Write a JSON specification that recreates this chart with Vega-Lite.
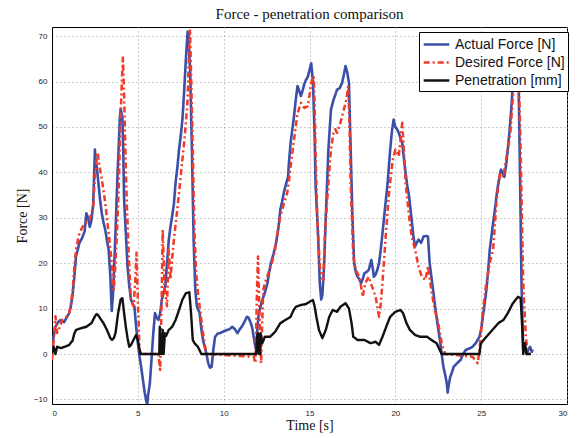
{
  "$schema": "https://vega.github.io/schema/vega-lite/v6.json",
  "autosize": {"type": "none"},
  "padding": {"left": 52, "top": 27, "right": 10, "bottom": 34},
  "width": 515,
  "height": 377,
  "background": "white",
  "title": {"text": "Force - penetration comparison", "font": "Liberation Serif", "fontSize": 15, "fontWeight": "normal", "color": "#111", "offset": 5},
  "config": {
    "view": {"stroke": "#000", "strokeWidth": 1},
    "axis": {
      "domainColor": "#000", "labelFont": "Liberation Sans", "labelFontSize": 8, "labelColor": "#222",
      "ticks": false, "labelPadding": 5, "gridColor": "#999", "gridDash": [1, 3], "gridWidth": 1,
      "titleFont": "Liberation Serif", "titleFontSize": 14, "titleFontWeight": "normal", "titleColor": "#111"
    },
    "legend": {
      "orient": "none", "legendX": 367, "legendY": 5, "strokeColor": "#000", "fillColor": "white",
      "padding": 3, "labelFont": "Liberation Sans", "labelFontSize": 14, "labelColor": "#111",
      "symbolType": "M-1.6,0H1.6", "symbolSize": 256, "symbolOffset": 5, "rowPadding": 1, "labelOffset": 9, "cornerRadius": 0
    }
  },
  "data": {"values": [
    {"s":"Actual Force [N]","t":0,"v":1.5},{"s":"Actual Force [N]","t":0.1,"v":4},{"s":"Actual Force [N]","t":0.2,"v":6},{"s":"Actual Force [N]","t":0.35,"v":7},{"s":"Actual Force [N]","t":0.5,"v":7.5},{"s":"Actual Force [N]","t":0.7,"v":7},{"s":"Actual Force [N]","t":0.85,"v":8},{"s":"Actual Force [N]","t":1.0,"v":9},{"s":"Actual Force [N]","t":1.1,"v":10.5},{"s":"Actual Force [N]","t":1.2,"v":13},{"s":"Actual Force [N]","t":1.3,"v":17},{"s":"Actual Force [N]","t":1.4,"v":21.5},{"s":"Actual Force [N]","t":1.5,"v":23},{"s":"Actual Force [N]","t":1.6,"v":24.5},{"s":"Actual Force [N]","t":1.75,"v":25.5},{"s":"Actual Force [N]","t":1.9,"v":27},{"s":"Actual Force [N]","t":2.0,"v":31},{"s":"Actual Force [N]","t":2.1,"v":30},{"s":"Actual Force [N]","t":2.2,"v":28},{"s":"Actual Force [N]","t":2.3,"v":29.5},{"s":"Actual Force [N]","t":2.4,"v":33},{"s":"Actual Force [N]","t":2.5,"v":45},{"s":"Actual Force [N]","t":2.55,"v":42},{"s":"Actual Force [N]","t":2.6,"v":41.5},{"s":"Actual Force [N]","t":2.7,"v":37.8},{"s":"Actual Force [N]","t":2.8,"v":34},{"s":"Actual Force [N]","t":2.9,"v":31},{"s":"Actual Force [N]","t":3.0,"v":29},{"s":"Actual Force [N]","t":3.1,"v":27.4},{"s":"Actual Force [N]","t":3.2,"v":25},{"s":"Actual Force [N]","t":3.3,"v":23},{"s":"Actual Force [N]","t":3.4,"v":17},{"s":"Actual Force [N]","t":3.48,"v":9.5},{"s":"Actual Force [N]","t":3.55,"v":13},{"s":"Actual Force [N]","t":3.6,"v":17},{"s":"Actual Force [N]","t":3.7,"v":27},{"s":"Actual Force [N]","t":3.8,"v":37.8},{"s":"Actual Force [N]","t":3.9,"v":47},{"s":"Actual Force [N]","t":3.95,"v":51.8},{"s":"Actual Force [N]","t":4.0,"v":54},{"s":"Actual Force [N]","t":4.1,"v":52},{"s":"Actual Force [N]","t":4.15,"v":45},{"s":"Actual Force [N]","t":4.2,"v":34},{"s":"Actual Force [N]","t":4.3,"v":26.7},{"s":"Actual Force [N]","t":4.4,"v":19.3},{"s":"Actual Force [N]","t":4.5,"v":15},{"s":"Actual Force [N]","t":4.6,"v":12},{"s":"Actual Force [N]","t":4.7,"v":11},{"s":"Actual Force [N]","t":4.8,"v":10.5},{"s":"Actual Force [N]","t":4.9,"v":6},{"s":"Actual Force [N]","t":5.0,"v":2.5},{"s":"Actual Force [N]","t":5.1,"v":-0.6},{"s":"Actual Force [N]","t":5.2,"v":-3},{"s":"Actual Force [N]","t":5.3,"v":-5.8},{"s":"Actual Force [N]","t":5.4,"v":-8.5},{"s":"Actual Force [N]","t":5.5,"v":-10.5},{"s":"Actual Force [N]","t":5.55,"v":-11},{"s":"Actual Force [N]","t":5.6,"v":-9},{"s":"Actual Force [N]","t":5.7,"v":-6.5},{"s":"Actual Force [N]","t":5.8,"v":-1},{"s":"Actual Force [N]","t":5.9,"v":4.6},{"s":"Actual Force [N]","t":6.0,"v":9},{"s":"Actual Force [N]","t":6.1,"v":8},{"s":"Actual Force [N]","t":6.2,"v":7.5},{"s":"Actual Force [N]","t":6.3,"v":9},{"s":"Actual Force [N]","t":6.4,"v":12},{"s":"Actual Force [N]","t":6.5,"v":13.5},{"s":"Actual Force [N]","t":6.6,"v":15},{"s":"Actual Force [N]","t":6.7,"v":20},{"s":"Actual Force [N]","t":6.8,"v":25},{"s":"Actual Force [N]","t":6.9,"v":28},{"s":"Actual Force [N]","t":7.0,"v":30.4},{"s":"Actual Force [N]","t":7.1,"v":33},{"s":"Actual Force [N]","t":7.2,"v":37.8},{"s":"Actual Force [N]","t":7.3,"v":41},{"s":"Actual Force [N]","t":7.4,"v":45},{"s":"Actual Force [N]","t":7.5,"v":48},{"s":"Actual Force [N]","t":7.6,"v":51.8},{"s":"Actual Force [N]","t":7.7,"v":58},{"s":"Actual Force [N]","t":7.8,"v":65},{"s":"Actual Force [N]","t":7.9,"v":71},{"s":"Actual Force [N]","t":7.95,"v":70},{"s":"Actual Force [N]","t":8.05,"v":62},{"s":"Actual Force [N]","t":8.15,"v":45},{"s":"Actual Force [N]","t":8.25,"v":25},{"s":"Actual Force [N]","t":8.35,"v":14},{"s":"Actual Force [N]","t":8.44,"v":10.5},{"s":"Actual Force [N]","t":8.6,"v":9},{"s":"Actual Force [N]","t":8.7,"v":5.5},{"s":"Actual Force [N]","t":8.8,"v":3},{"s":"Actual Force [N]","t":9.0,"v":0},{"s":"Actual Force [N]","t":9.1,"v":-2},{"s":"Actual Force [N]","t":9.2,"v":-3},{"s":"Actual Force [N]","t":9.3,"v":-2.8},{"s":"Actual Force [N]","t":9.4,"v":1},{"s":"Actual Force [N]","t":9.5,"v":3.8},{"s":"Actual Force [N]","t":9.65,"v":4.5},{"s":"Actual Force [N]","t":9.8,"v":4.6},{"s":"Actual Force [N]","t":10.0,"v":5},{"s":"Actual Force [N]","t":10.2,"v":5.3},{"s":"Actual Force [N]","t":10.35,"v":5.5},{"s":"Actual Force [N]","t":10.5,"v":6},{"s":"Actual Force [N]","t":10.65,"v":5.5},{"s":"Actual Force [N]","t":10.8,"v":4.6},{"s":"Actual Force [N]","t":10.95,"v":5.5},{"s":"Actual Force [N]","t":11.05,"v":6},{"s":"Actual Force [N]","t":11.2,"v":7},{"s":"Actual Force [N]","t":11.35,"v":8.2},{"s":"Actual Force [N]","t":11.45,"v":8},{"s":"Actual Force [N]","t":11.55,"v":7.1},{"s":"Actual Force [N]","t":11.65,"v":6},{"s":"Actual Force [N]","t":11.75,"v":3.8},{"s":"Actual Force [N]","t":11.85,"v":1.5},{"s":"Actual Force [N]","t":11.9,"v":0.9},{"s":"Actual Force [N]","t":11.97,"v":6},{"s":"Actual Force [N]","t":12.05,"v":9},{"s":"Actual Force [N]","t":12.15,"v":10.5},{"s":"Actual Force [N]","t":12.25,"v":11.9},{"s":"Actual Force [N]","t":12.4,"v":13.5},{"s":"Actual Force [N]","t":12.55,"v":15.6},{"s":"Actual Force [N]","t":12.65,"v":18},{"s":"Actual Force [N]","t":12.75,"v":20},{"s":"Actual Force [N]","t":12.9,"v":22},{"s":"Actual Force [N]","t":13.05,"v":24.4},{"s":"Actual Force [N]","t":13.2,"v":28},{"s":"Actual Force [N]","t":13.3,"v":31.8},{"s":"Actual Force [N]","t":13.4,"v":33.5},{"s":"Actual Force [N]","t":13.5,"v":35.4},{"s":"Actual Force [N]","t":13.6,"v":37},{"s":"Actual Force [N]","t":13.75,"v":39},{"s":"Actual Force [N]","t":13.8,"v":42},{"s":"Actual Force [N]","t":13.9,"v":46.5},{"s":"Actual Force [N]","t":14.0,"v":49.5},{"s":"Actual Force [N]","t":14.1,"v":52.4},{"s":"Actual Force [N]","t":14.2,"v":56},{"s":"Actual Force [N]","t":14.3,"v":59},{"s":"Actual Force [N]","t":14.4,"v":58},{"s":"Actual Force [N]","t":14.5,"v":56.8},{"s":"Actual Force [N]","t":14.6,"v":58},{"s":"Actual Force [N]","t":14.7,"v":59.5},{"s":"Actual Force [N]","t":14.8,"v":60.4},{"s":"Actual Force [N]","t":14.9,"v":61},{"s":"Actual Force [N]","t":15.0,"v":62.5},{"s":"Actual Force [N]","t":15.1,"v":64},{"s":"Actual Force [N]","t":15.2,"v":60},{"s":"Actual Force [N]","t":15.3,"v":48},{"s":"Actual Force [N]","t":15.35,"v":37.6},{"s":"Actual Force [N]","t":15.45,"v":30},{"s":"Actual Force [N]","t":15.5,"v":25.9},{"s":"Actual Force [N]","t":15.6,"v":15.6},{"s":"Actual Force [N]","t":15.68,"v":12},{"s":"Actual Force [N]","t":15.75,"v":13},{"s":"Actual Force [N]","t":15.85,"v":19.3},{"s":"Actual Force [N]","t":15.95,"v":30.3},{"s":"Actual Force [N]","t":16.05,"v":40},{"s":"Actual Force [N]","t":16.1,"v":45},{"s":"Actual Force [N]","t":16.25,"v":53.8},{"s":"Actual Force [N]","t":16.4,"v":56},{"s":"Actual Force [N]","t":16.5,"v":57},{"s":"Actual Force [N]","t":16.6,"v":58.2},{"s":"Actual Force [N]","t":16.75,"v":58.5},{"s":"Actual Force [N]","t":16.9,"v":59.7},{"s":"Actual Force [N]","t":17.0,"v":61.5},{"s":"Actual Force [N]","t":17.1,"v":63.4},{"s":"Actual Force [N]","t":17.2,"v":62},{"s":"Actual Force [N]","t":17.3,"v":59.7},{"s":"Actual Force [N]","t":17.35,"v":52},{"s":"Actual Force [N]","t":17.4,"v":45},{"s":"Actual Force [N]","t":17.5,"v":30.3},{"s":"Actual Force [N]","t":17.6,"v":20},{"s":"Actual Force [N]","t":17.7,"v":18},{"s":"Actual Force [N]","t":17.8,"v":17},{"s":"Actual Force [N]","t":17.9,"v":16.5},{"s":"Actual Force [N]","t":18.0,"v":15.6},{"s":"Actual Force [N]","t":18.1,"v":16.5},{"s":"Actual Force [N]","t":18.2,"v":17.8},{"s":"Actual Force [N]","t":18.3,"v":18},{"s":"Actual Force [N]","t":18.45,"v":18.5},{"s":"Actual Force [N]","t":18.6,"v":20.7},{"s":"Actual Force [N]","t":18.7,"v":18.5},{"s":"Actual Force [N]","t":18.75,"v":17},{"s":"Actual Force [N]","t":18.85,"v":17.5},{"s":"Actual Force [N]","t":18.95,"v":18.5},{"s":"Actual Force [N]","t":19.05,"v":20},{"s":"Actual Force [N]","t":19.15,"v":23},{"s":"Actual Force [N]","t":19.25,"v":26.5},{"s":"Actual Force [N]","t":19.35,"v":30.3},{"s":"Actual Force [N]","t":19.45,"v":34},{"s":"Actual Force [N]","t":19.55,"v":37.6},{"s":"Actual Force [N]","t":19.7,"v":45},{"s":"Actual Force [N]","t":19.8,"v":49},{"s":"Actual Force [N]","t":19.9,"v":51.6},{"s":"Actual Force [N]","t":20.0,"v":50},{"s":"Actual Force [N]","t":20.1,"v":49.5},{"s":"Actual Force [N]","t":20.2,"v":48.7},{"s":"Actual Force [N]","t":20.3,"v":47.5},{"s":"Actual Force [N]","t":20.4,"v":46.5},{"s":"Actual Force [N]","t":20.5,"v":43},{"s":"Actual Force [N]","t":20.6,"v":39.8},{"s":"Actual Force [N]","t":20.7,"v":37},{"s":"Actual Force [N]","t":20.8,"v":34.7},{"s":"Actual Force [N]","t":20.95,"v":29.6},{"s":"Actual Force [N]","t":21.05,"v":26},{"s":"Actual Force [N]","t":21.15,"v":23.7},{"s":"Actual Force [N]","t":21.25,"v":24.5},{"s":"Actual Force [N]","t":21.35,"v":25.2},{"s":"Actual Force [N]","t":21.5,"v":24.5},{"s":"Actual Force [N]","t":21.65,"v":25.9},{"s":"Actual Force [N]","t":21.8,"v":26},{"s":"Actual Force [N]","t":21.9,"v":25.9},{"s":"Actual Force [N]","t":22.0,"v":20},{"s":"Actual Force [N]","t":22.1,"v":17},{"s":"Actual Force [N]","t":22.2,"v":14.1},{"s":"Actual Force [N]","t":22.3,"v":11},{"s":"Actual Force [N]","t":22.4,"v":8.2},{"s":"Actual Force [N]","t":22.5,"v":5.5},{"s":"Actual Force [N]","t":22.6,"v":3},{"s":"Actual Force [N]","t":22.7,"v":0},{"s":"Actual Force [N]","t":22.8,"v":-2.8},{"s":"Actual Force [N]","t":22.9,"v":-4.5},{"s":"Actual Force [N]","t":23.0,"v":-6.5},{"s":"Actual Force [N]","t":23.05,"v":-8.5},{"s":"Actual Force [N]","t":23.1,"v":-7},{"s":"Actual Force [N]","t":23.2,"v":-5},{"s":"Actual Force [N]","t":23.3,"v":-4},{"s":"Actual Force [N]","t":23.4,"v":-2.8},{"s":"Actual Force [N]","t":23.6,"v":-2},{"s":"Actual Force [N]","t":23.8,"v":-1.3},{"s":"Actual Force [N]","t":23.95,"v":0},{"s":"Actual Force [N]","t":24.1,"v":0.9},{"s":"Actual Force [N]","t":24.3,"v":1.2},{"s":"Actual Force [N]","t":24.5,"v":1.6},{"s":"Actual Force [N]","t":24.7,"v":2.5},{"s":"Actual Force [N]","t":24.9,"v":3.8},{"s":"Actual Force [N]","t":25.0,"v":5.5},{"s":"Actual Force [N]","t":25.1,"v":8.2},{"s":"Actual Force [N]","t":25.2,"v":11},{"s":"Actual Force [N]","t":25.3,"v":14},{"s":"Actual Force [N]","t":25.4,"v":18},{"s":"Actual Force [N]","t":25.5,"v":23},{"s":"Actual Force [N]","t":25.65,"v":27.5},{"s":"Actual Force [N]","t":25.8,"v":31.8},{"s":"Actual Force [N]","t":25.9,"v":35},{"s":"Actual Force [N]","t":26.0,"v":37.6},{"s":"Actual Force [N]","t":26.15,"v":40.6},{"s":"Actual Force [N]","t":26.25,"v":40},{"s":"Actual Force [N]","t":26.35,"v":39},{"s":"Actual Force [N]","t":26.45,"v":41.5},{"s":"Actual Force [N]","t":26.55,"v":45},{"s":"Actual Force [N]","t":26.65,"v":49},{"s":"Actual Force [N]","t":26.75,"v":53.8},{"s":"Actual Force [N]","t":26.85,"v":59.7},{"s":"Actual Force [N]","t":26.95,"v":63},{"s":"Actual Force [N]","t":27.05,"v":67},{"s":"Actual Force [N]","t":27.1,"v":68},{"s":"Actual Force [N]","t":27.15,"v":66},{"s":"Actual Force [N]","t":27.2,"v":55},{"s":"Actual Force [N]","t":27.28,"v":35},{"s":"Actual Force [N]","t":27.35,"v":15.6},{"s":"Actual Force [N]","t":27.45,"v":0.9},{"s":"Actual Force [N]","t":27.55,"v":1.5},{"s":"Actual Force [N]","t":27.65,"v":0},{"s":"Actual Force [N]","t":27.75,"v":1},{"s":"Actual Force [N]","t":27.85,"v":1.6},{"s":"Actual Force [N]","t":27.95,"v":0.5},{"s":"Actual Force [N]","t":28.0,"v":1},

    {"s":"Desired Force [N]","t":0,"v":-1.3},{"s":"Desired Force [N]","t":0.1,"v":3},{"s":"Desired Force [N]","t":0.2,"v":8.3},{"s":"Desired Force [N]","t":0.3,"v":4.6},{"s":"Desired Force [N]","t":0.45,"v":6},{"s":"Desired Force [N]","t":0.6,"v":7.5},{"s":"Desired Force [N]","t":0.8,"v":8},{"s":"Desired Force [N]","t":1.0,"v":9},{"s":"Desired Force [N]","t":1.1,"v":11},{"s":"Desired Force [N]","t":1.2,"v":14},{"s":"Desired Force [N]","t":1.3,"v":19},{"s":"Desired Force [N]","t":1.4,"v":23},{"s":"Desired Force [N]","t":1.55,"v":26},{"s":"Desired Force [N]","t":1.7,"v":27.4},{"s":"Desired Force [N]","t":1.85,"v":28.5},{"s":"Desired Force [N]","t":2.0,"v":29},{"s":"Desired Force [N]","t":2.2,"v":29.6},{"s":"Desired Force [N]","t":2.3,"v":31},{"s":"Desired Force [N]","t":2.4,"v":32.6},{"s":"Desired Force [N]","t":2.5,"v":39.2},{"s":"Desired Force [N]","t":2.65,"v":44.4},{"s":"Desired Force [N]","t":2.75,"v":42},{"s":"Desired Force [N]","t":2.8,"v":40.7},{"s":"Desired Force [N]","t":2.9,"v":38.5},{"s":"Desired Force [N]","t":3.0,"v":36},{"s":"Desired Force [N]","t":3.1,"v":33.3},{"s":"Desired Force [N]","t":3.2,"v":30},{"s":"Desired Force [N]","t":3.3,"v":26.7},{"s":"Desired Force [N]","t":3.4,"v":23},{"s":"Desired Force [N]","t":3.5,"v":19.3},{"s":"Desired Force [N]","t":3.6,"v":14.2},{"s":"Desired Force [N]","t":3.7,"v":20},{"s":"Desired Force [N]","t":3.8,"v":28},{"s":"Desired Force [N]","t":3.9,"v":38},{"s":"Desired Force [N]","t":3.95,"v":45.9},{"s":"Desired Force [N]","t":4.05,"v":58},{"s":"Desired Force [N]","t":4.13,"v":65.5},{"s":"Desired Force [N]","t":4.2,"v":57},{"s":"Desired Force [N]","t":4.25,"v":48.8},{"s":"Desired Force [N]","t":4.35,"v":34},{"s":"Desired Force [N]","t":4.45,"v":24},{"s":"Desired Force [N]","t":4.5,"v":19.3},{"s":"Desired Force [N]","t":4.6,"v":12},{"s":"Desired Force [N]","t":4.75,"v":10.5},{"s":"Desired Force [N]","t":4.85,"v":16},{"s":"Desired Force [N]","t":4.92,"v":22.3},{"s":"Desired Force [N]","t":5.0,"v":12},{"s":"Desired Force [N]","t":5.1,"v":0.9},{"s":"Desired Force [N]","t":5.2,"v":0},{"s":"Desired Force [N]","t":6.2,"v":0},{"s":"Desired Force [N]","t":6.3,"v":-3.5},{"s":"Desired Force [N]","t":6.38,"v":10.5},{"s":"Desired Force [N]","t":6.45,"v":27.4},{"s":"Desired Force [N]","t":6.55,"v":15},{"s":"Desired Force [N]","t":6.7,"v":10.5},{"s":"Desired Force [N]","t":6.8,"v":23},{"s":"Desired Force [N]","t":6.9,"v":16.4},{"s":"Desired Force [N]","t":7.0,"v":21},{"s":"Desired Force [N]","t":7.1,"v":25.2},{"s":"Desired Force [N]","t":7.2,"v":28.5},{"s":"Desired Force [N]","t":7.3,"v":31.9},{"s":"Desired Force [N]","t":7.4,"v":35.5},{"s":"Desired Force [N]","t":7.5,"v":39.2},{"s":"Desired Force [N]","t":7.6,"v":43},{"s":"Desired Force [N]","t":7.7,"v":46.6},{"s":"Desired Force [N]","t":7.8,"v":51},{"s":"Desired Force [N]","t":7.9,"v":56},{"s":"Desired Force [N]","t":7.97,"v":65},{"s":"Desired Force [N]","t":8.04,"v":71.5},{"s":"Desired Force [N]","t":8.1,"v":62},{"s":"Desired Force [N]","t":8.2,"v":45},{"s":"Desired Force [N]","t":8.3,"v":26.7},{"s":"Desired Force [N]","t":8.4,"v":17.8},{"s":"Desired Force [N]","t":8.5,"v":13.5},{"s":"Desired Force [N]","t":8.6,"v":10.5},{"s":"Desired Force [N]","t":8.7,"v":7.5},{"s":"Desired Force [N]","t":8.8,"v":4.6},{"s":"Desired Force [N]","t":8.9,"v":2},{"s":"Desired Force [N]","t":9.0,"v":0},{"s":"Desired Force [N]","t":11.75,"v":-0.6},{"s":"Desired Force [N]","t":11.85,"v":-2},{"s":"Desired Force [N]","t":11.95,"v":15.6},{"s":"Desired Force [N]","t":12.0,"v":21.5},{"s":"Desired Force [N]","t":12.08,"v":9.7},{"s":"Desired Force [N]","t":12.18,"v":-2},{"s":"Desired Force [N]","t":12.3,"v":14},{"s":"Desired Force [N]","t":12.4,"v":15.6},{"s":"Desired Force [N]","t":12.6,"v":17.8},{"s":"Desired Force [N]","t":12.8,"v":20},{"s":"Desired Force [N]","t":13.0,"v":23},{"s":"Desired Force [N]","t":13.15,"v":27},{"s":"Desired Force [N]","t":13.3,"v":30.3},{"s":"Desired Force [N]","t":13.5,"v":33},{"s":"Desired Force [N]","t":13.7,"v":35.4},{"s":"Desired Force [N]","t":13.8,"v":38},{"s":"Desired Force [N]","t":13.9,"v":41.3},{"s":"Desired Force [N]","t":14.1,"v":47.2},{"s":"Desired Force [N]","t":14.3,"v":53},{"s":"Desired Force [N]","t":14.5,"v":55.3},{"s":"Desired Force [N]","t":14.7,"v":54.2},{"s":"Desired Force [N]","t":14.9,"v":54.6},{"s":"Desired Force [N]","t":15.0,"v":57},{"s":"Desired Force [N]","t":15.1,"v":59.7},{"s":"Desired Force [N]","t":15.25,"v":61.2},{"s":"Desired Force [N]","t":15.3,"v":55},{"s":"Desired Force [N]","t":15.35,"v":45},{"s":"Desired Force [N]","t":15.45,"v":30.3},{"s":"Desired Force [N]","t":15.6,"v":19.3},{"s":"Desired Force [N]","t":15.7,"v":17},{"s":"Desired Force [N]","t":15.8,"v":16.3},{"s":"Desired Force [N]","t":15.9,"v":26.6},{"s":"Desired Force [N]","t":16.0,"v":32},{"s":"Desired Force [N]","t":16.1,"v":37.6},{"s":"Desired Force [N]","t":16.25,"v":45},{"s":"Desired Force [N]","t":16.4,"v":48.7},{"s":"Desired Force [N]","t":16.5,"v":49.5},{"s":"Desired Force [N]","t":16.6,"v":48.7},{"s":"Desired Force [N]","t":16.8,"v":50.9},{"s":"Desired Force [N]","t":17.0,"v":53.8},{"s":"Desired Force [N]","t":17.15,"v":56},{"s":"Desired Force [N]","t":17.25,"v":59},{"s":"Desired Force [N]","t":17.32,"v":52},{"s":"Desired Force [N]","t":17.4,"v":37.6},{"s":"Desired Force [N]","t":17.55,"v":21.5},{"s":"Desired Force [N]","t":17.7,"v":18.5},{"s":"Desired Force [N]","t":17.9,"v":17},{"s":"Desired Force [N]","t":18.0,"v":15},{"s":"Desired Force [N]","t":18.1,"v":12.6},{"s":"Desired Force [N]","t":18.25,"v":15.6},{"s":"Desired Force [N]","t":18.45,"v":17},{"s":"Desired Force [N]","t":18.65,"v":14.8},{"s":"Desired Force [N]","t":18.85,"v":12.6},{"s":"Desired Force [N]","t":18.95,"v":10.5},{"s":"Desired Force [N]","t":19.05,"v":8.2},{"s":"Desired Force [N]","t":19.15,"v":11},{"s":"Desired Force [N]","t":19.25,"v":15.6},{"s":"Desired Force [N]","t":19.35,"v":21},{"s":"Desired Force [N]","t":19.45,"v":26.6},{"s":"Desired Force [N]","t":19.65,"v":36.2},{"s":"Desired Force [N]","t":19.85,"v":42.8},{"s":"Desired Force [N]","t":20.0,"v":45},{"s":"Desired Force [N]","t":20.2,"v":43.5},{"s":"Desired Force [N]","t":20.3,"v":47},{"s":"Desired Force [N]","t":20.4,"v":50.9},{"s":"Desired Force [N]","t":20.5,"v":45},{"s":"Desired Force [N]","t":20.6,"v":37.6},{"s":"Desired Force [N]","t":20.7,"v":34},{"s":"Desired Force [N]","t":20.8,"v":30.3},{"s":"Desired Force [N]","t":20.95,"v":25.9},{"s":"Desired Force [N]","t":21.15,"v":23},{"s":"Desired Force [N]","t":21.35,"v":19.3},{"s":"Desired Force [N]","t":21.55,"v":17},{"s":"Desired Force [N]","t":21.75,"v":16.3},{"s":"Desired Force [N]","t":21.9,"v":19.3},{"s":"Desired Force [N]","t":22.1,"v":14},{"s":"Desired Force [N]","t":22.3,"v":9.7},{"s":"Desired Force [N]","t":22.5,"v":6.8},{"s":"Desired Force [N]","t":22.7,"v":2.4},{"s":"Desired Force [N]","t":22.9,"v":0},{"s":"Desired Force [N]","t":24.5,"v":-0.6},{"s":"Desired Force [N]","t":24.8,"v":-2},{"s":"Desired Force [N]","t":24.9,"v":0.9},{"s":"Desired Force [N]","t":25.1,"v":9.7},{"s":"Desired Force [N]","t":25.3,"v":15.6},{"s":"Desired Force [N]","t":25.5,"v":20},{"s":"Desired Force [N]","t":25.7,"v":23},{"s":"Desired Force [N]","t":25.9,"v":34},{"s":"Desired Force [N]","t":26.1,"v":39.8},{"s":"Desired Force [N]","t":26.3,"v":39},{"s":"Desired Force [N]","t":26.45,"v":42.8},{"s":"Desired Force [N]","t":26.7,"v":48.7},{"s":"Desired Force [N]","t":26.9,"v":59.7},{"s":"Desired Force [N]","t":27.0,"v":64},{"s":"Desired Force [N]","t":27.1,"v":66},{"s":"Desired Force [N]","t":27.2,"v":60},{"s":"Desired Force [N]","t":27.3,"v":45},{"s":"Desired Force [N]","t":27.45,"v":15.6},{"s":"Desired Force [N]","t":27.6,"v":3.8},{"s":"Desired Force [N]","t":27.7,"v":0.9},{"s":"Desired Force [N]","t":27.8,"v":0},

    {"s":"Penetration [mm]","t":0,"v":0},{"s":"Penetration [mm]","t":0.1,"v":1.6},{"s":"Penetration [mm]","t":0.2,"v":0},{"s":"Penetration [mm]","t":0.3,"v":1.6},{"s":"Penetration [mm]","t":0.5,"v":1.3},{"s":"Penetration [mm]","t":0.75,"v":1.6},{"s":"Penetration [mm]","t":1.0,"v":2},{"s":"Penetration [mm]","t":1.2,"v":3},{"s":"Penetration [mm]","t":1.3,"v":4.5},{"s":"Penetration [mm]","t":1.4,"v":5.3},{"s":"Penetration [mm]","t":1.7,"v":5.7},{"s":"Penetration [mm]","t":2.0,"v":6},{"s":"Penetration [mm]","t":2.3,"v":6.8},{"s":"Penetration [mm]","t":2.5,"v":8.3},{"s":"Penetration [mm]","t":2.6,"v":8.8},{"s":"Penetration [mm]","t":2.7,"v":8.5},{"s":"Penetration [mm]","t":2.8,"v":7.9},{"s":"Penetration [mm]","t":3.0,"v":6.8},{"s":"Penetration [mm]","t":3.2,"v":5.3},{"s":"Penetration [mm]","t":3.4,"v":3.5},{"s":"Penetration [mm]","t":3.5,"v":3.1},{"s":"Penetration [mm]","t":3.6,"v":3.5},{"s":"Penetration [mm]","t":3.7,"v":4.6},{"s":"Penetration [mm]","t":3.85,"v":9},{"s":"Penetration [mm]","t":4.0,"v":12},{"s":"Penetration [mm]","t":4.1,"v":12.3},{"s":"Penetration [mm]","t":4.2,"v":9},{"s":"Penetration [mm]","t":4.3,"v":6},{"s":"Penetration [mm]","t":4.4,"v":3.5},{"s":"Penetration [mm]","t":4.5,"v":1.6},{"s":"Penetration [mm]","t":4.6,"v":2},{"s":"Penetration [mm]","t":4.8,"v":3.5},{"s":"Penetration [mm]","t":4.9,"v":4.2},{"s":"Penetration [mm]","t":5.0,"v":3.1},{"s":"Penetration [mm]","t":5.1,"v":1},{"s":"Penetration [mm]","t":5.15,"v":0},{"s":"Penetration [mm]","t":6.25,"v":0},{"s":"Penetration [mm]","t":6.28,"v":6},{"s":"Penetration [mm]","t":6.33,"v":0},{"s":"Penetration [mm]","t":6.4,"v":0},{"s":"Penetration [mm]","t":6.45,"v":5.3},{"s":"Penetration [mm]","t":6.5,"v":0},{"s":"Penetration [mm]","t":6.58,"v":4.6},{"s":"Penetration [mm]","t":6.65,"v":4},{"s":"Penetration [mm]","t":6.8,"v":5.3},{"s":"Penetration [mm]","t":7.0,"v":6},{"s":"Penetration [mm]","t":7.2,"v":7.5},{"s":"Penetration [mm]","t":7.4,"v":9.7},{"s":"Penetration [mm]","t":7.6,"v":12},{"s":"Penetration [mm]","t":7.8,"v":13.4},{"s":"Penetration [mm]","t":8.0,"v":13.6},{"s":"Penetration [mm]","t":8.1,"v":9},{"s":"Penetration [mm]","t":8.2,"v":3.1},{"s":"Penetration [mm]","t":8.3,"v":2.4},{"s":"Penetration [mm]","t":8.5,"v":1.6},{"s":"Penetration [mm]","t":8.7,"v":0},{"s":"Penetration [mm]","t":11.9,"v":0},{"s":"Penetration [mm]","t":11.95,"v":3.8},{"s":"Penetration [mm]","t":12.0,"v":4.6},{"s":"Penetration [mm]","t":12.05,"v":0},{"s":"Penetration [mm]","t":12.12,"v":0},{"s":"Penetration [mm]","t":12.15,"v":4.6},{"s":"Penetration [mm]","t":12.25,"v":2.4},{"s":"Penetration [mm]","t":12.4,"v":3.8},{"s":"Penetration [mm]","t":12.7,"v":3.8},{"s":"Penetration [mm]","t":13.0,"v":4.9},{"s":"Penetration [mm]","t":13.3,"v":6.8},{"s":"Penetration [mm]","t":13.6,"v":7.5},{"s":"Penetration [mm]","t":13.9,"v":8.2},{"s":"Penetration [mm]","t":14.05,"v":9.5},{"s":"Penetration [mm]","t":14.2,"v":10.4},{"s":"Penetration [mm]","t":14.5,"v":10.8},{"s":"Penetration [mm]","t":14.8,"v":11},{"s":"Penetration [mm]","t":15.0,"v":11.5},{"s":"Penetration [mm]","t":15.2,"v":11.9},{"s":"Penetration [mm]","t":15.3,"v":10.5},{"s":"Penetration [mm]","t":15.4,"v":8.2},{"s":"Penetration [mm]","t":15.55,"v":5.3},{"s":"Penetration [mm]","t":15.75,"v":3.5},{"s":"Penetration [mm]","t":15.95,"v":5.3},{"s":"Penetration [mm]","t":16.15,"v":8.2},{"s":"Penetration [mm]","t":16.35,"v":9.7},{"s":"Penetration [mm]","t":16.6,"v":9.3},{"s":"Penetration [mm]","t":16.8,"v":10.4},{"s":"Penetration [mm]","t":17.1,"v":11.2},{"s":"Penetration [mm]","t":17.3,"v":10},{"s":"Penetration [mm]","t":17.45,"v":6.8},{"s":"Penetration [mm]","t":17.55,"v":3.8},{"s":"Penetration [mm]","t":17.8,"v":3.1},{"s":"Penetration [mm]","t":18.2,"v":3.1},{"s":"Penetration [mm]","t":18.55,"v":2.4},{"s":"Penetration [mm]","t":18.85,"v":2.7},{"s":"Penetration [mm]","t":19.05,"v":2},{"s":"Penetration [mm]","t":19.25,"v":3.8},{"s":"Penetration [mm]","t":19.55,"v":6.8},{"s":"Penetration [mm]","t":19.7,"v":8.2},{"s":"Penetration [mm]","t":20.0,"v":9.3},{"s":"Penetration [mm]","t":20.3,"v":9.7},{"s":"Penetration [mm]","t":20.45,"v":9},{"s":"Penetration [mm]","t":20.65,"v":6.8},{"s":"Penetration [mm]","t":20.85,"v":5.3},{"s":"Penetration [mm]","t":21.15,"v":4.2},{"s":"Penetration [mm]","t":21.45,"v":3.8},{"s":"Penetration [mm]","t":21.85,"v":3.8},{"s":"Penetration [mm]","t":22.1,"v":3.1},{"s":"Penetration [mm]","t":22.4,"v":2.4},{"s":"Penetration [mm]","t":22.7,"v":0},{"s":"Penetration [mm]","t":24.9,"v":0},{"s":"Penetration [mm]","t":24.95,"v":1.6},{"s":"Penetration [mm]","t":25.0,"v":2.4},{"s":"Penetration [mm]","t":25.3,"v":3.8},{"s":"Penetration [mm]","t":25.65,"v":5.3},{"s":"Penetration [mm]","t":26.0,"v":6.8},{"s":"Penetration [mm]","t":26.3,"v":7.5},{"s":"Penetration [mm]","t":26.55,"v":9},{"s":"Penetration [mm]","t":26.85,"v":11.2},{"s":"Penetration [mm]","t":27.15,"v":12.6},{"s":"Penetration [mm]","t":27.3,"v":12.3},{"s":"Penetration [mm]","t":27.4,"v":5.3},{"s":"Penetration [mm]","t":27.45,"v":0},{"s":"Penetration [mm]","t":27.55,"v":2.4},{"s":"Penetration [mm]","t":27.65,"v":0},{"s":"Penetration [mm]","t":27.9,"v":0}
  ]},
  "mark": {"type": "line", "clip": true, "strokeJoin": "round"},
  "encoding": {
    "x": {"field": "t", "type": "quantitative", "title": "Time [s]",
      "scale": {"domain": [0, 30], "nice": false, "zero": false},
      "axis": {"values": [0, 5, 10, 15, 20, 25, 30], "titlePadding": 1}},
    "y": {"field": "v", "type": "quantitative", "title": "Force [N]",
      "scale": {"domain": [-11, 72], "nice": false, "zero": false},
      "axis": {"values": [-10, 0, 10, 20, 30, 40, 50, 60, 70], "titlePadding": 4}},
    "color": {"field": "s", "type": "nominal", "title": null,
      "scale": {"domain": ["Actual Force [N]", "Desired Force [N]", "Penetration [mm]"], "range": ["#3b4fa8", "#f23a26", "#111111"]}},
    "strokeDash": {"field": "s", "type": "nominal", "title": null,
      "scale": {"domain": ["Actual Force [N]", "Desired Force [N]", "Penetration [mm]"], "range": [[1, 0], [6, 3, 2, 3], [1, 0]]}},
    "strokeWidth": {"field": "s", "type": "nominal", "title": null,
      "scale": {"domain": ["Actual Force [N]", "Desired Force [N]", "Penetration [mm]"], "range": [2.6, 2.4, 2.2]}},
    "order": {"field": "t"}
  }
}
